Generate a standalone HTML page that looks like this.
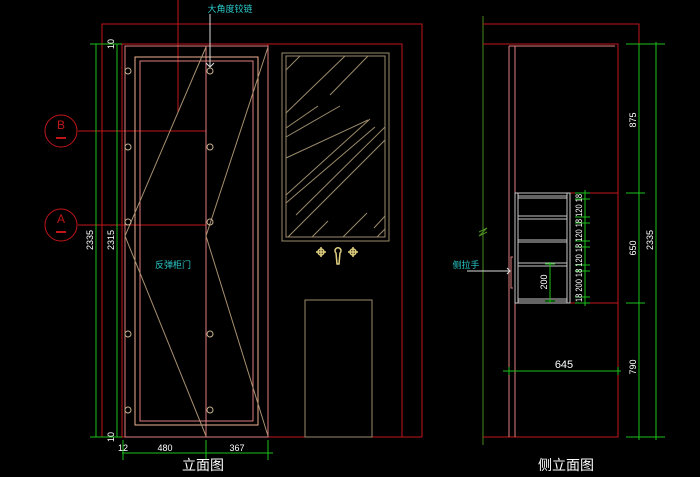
<!DOCTYPE html>
<html><head><meta charset="utf-8"><style>
html,body{margin:0;padding:0;background:#000;width:700px;height:477px;overflow:hidden}
svg{display:block}
text{font-family:"Liberation Sans","Noto Sans CJK SC",sans-serif}
</style></head><body>
<svg width="700" height="477" viewBox="0 0 700 477" xmlns="http://www.w3.org/2000/svg">
<g fill="none" stroke-width="1">
<!-- LEFT ELEVATION -->
<g stroke="#c0161a">
<path d="M102 437 V24 H422 V437"/>
<path d="M122 44 H402 V437"/>
<path d="M96 437 H422"/>
<line x1="122" y1="44" x2="122" y2="437"/>
<line x1="268" y1="44" x2="268" y2="437"/>
<line x1="178" y1="0" x2="178" y2="112"/>
<line x1="78" y1="131" x2="206" y2="131"/>
<line x1="78" y1="225" x2="206" y2="225"/>
<circle cx="61" cy="131" r="16"/>
<circle cx="61" cy="225" r="16"/>
<line x1="56" y1="138" x2="66" y2="138" stroke-width="2"/>
<line x1="56" y1="232" x2="66" y2="232" stroke-width="2"/>
</g>
<text x="61" y="129" fill="#c0161a" font-size="12" text-anchor="middle" font-family="Liberation Serif">B</text>
<text x="61" y="223" fill="#c0161a" font-size="12" text-anchor="middle" font-family="Liberation Serif">A</text>
<g stroke="#e08080">
<rect x="125" y="46" width="143" height="391"/>
<line x1="206" y1="46" x2="206" y2="437"/>
<rect x="140" y="61" width="113" height="360"/>
</g>
<rect x="135" y="57" width="123" height="368" stroke="#f0b090"/>
<g stroke="#a89070">
<polyline points="206,47 125,236 206,436"/>
<polyline points="268,47 206,236 268,436"/>
</g>
<g stroke="#c8b090">
<circle cx="128" cy="71" r="3"/><circle cx="128" cy="147" r="3"/><circle cx="128" cy="222" r="3"/><circle cx="128" cy="334" r="3"/><circle cx="128" cy="410" r="3"/>
<circle cx="210" cy="71" r="3"/><circle cx="210" cy="147" r="3"/><circle cx="210" cy="222" r="3"/><circle cx="210" cy="334" r="3"/><circle cx="210" cy="410" r="3"/>
</g>
<!-- mirror -->
<g stroke="#9a8a6a">
<rect x="282" y="53" width="107" height="188"/>
<rect x="286" y="56" width="99" height="181"/>
<path d="M286 70 L300 56 M286 113 L345 56 M330 95 L368 56 M286 128 L318 106 M286 137 L340 106 M286 158 L368 120 M286 195 L370 119 M286 203 L375 127 M296 215 L385 127 M288 237 L385 140 M312 237 L328 221 M343 237 L367 213 M374 228 L385 216 M377 237 L385 229"/>
<rect x="305" y="300" width="67" height="137"/>
</g>
<g stroke="#e0d080" stroke-width="1.5">
<path d="M321 247 V257 M316 252 H326"/><circle cx="321" cy="252" r="3"/>
<path d="M353 247 V257 M348 252 H358"/><circle cx="353" cy="252" r="3"/>
<path d="M336 253 A3 3 0 1 1 340 253 L339 264 H337 Z"/>
</g>
<!-- dims left -->
<g stroke="#1cc01c">
<line x1="96" y1="44" x2="96" y2="437"/>
<line x1="117" y1="44" x2="117" y2="437"/>
<line x1="90" y1="44" x2="122" y2="44"/>
<line x1="90" y1="437" x2="122" y2="437"/>
<line x1="122" y1="453" x2="273" y2="453"/>
<line x1="123" y1="440" x2="123" y2="460"/>
<line x1="206" y1="440" x2="206" y2="460"/>
<line x1="268" y1="440" x2="268" y2="460"/>
</g>
<g fill="#fff" font-size="9" text-anchor="middle">
<text transform="translate(93,240) rotate(-90)">2335</text>
<text transform="translate(114,240) rotate(-90)">2315</text>
<text transform="translate(114,44) rotate(-90)">10</text>
<text transform="translate(114,437) rotate(-90)">10</text>
<text x="123" y="451">12</text>
<text x="165" y="451">480</text>
<text x="237" y="451">367</text>
</g>
<text x="203" y="470" fill="#fff" font-size="14" text-anchor="middle">立面图</text>
<text x="230" y="12" fill="#2cc8c8" font-size="9" text-anchor="middle">大角度铰链</text>
<path d="M210 14 V66 M206 63 L210 67 L214 63" stroke="#ddd"/>
<text x="173" y="268" fill="#2cc8c8" font-size="9" text-anchor="middle">反弹柜门</text>

<!-- RIGHT ELEVATION -->
<line x1="483" y1="16" x2="483" y2="445" stroke="#4a8a20"/>
<path d="M479 232 L487 228 L479 236 L487 232" stroke="#4a8a20"/>
<g stroke="#c0161a">
<path d="M483 24 H639 V44"/>
<path d="M483 44 H618 V437 H483"/>
<line x1="515" y1="193" x2="618" y2="193"/>
<line x1="515" y1="303" x2="618" y2="303"/>
</g>
<g stroke="#e08080">
<line x1="509" y1="46" x2="509" y2="437"/>
<line x1="515" y1="46" x2="515" y2="437"/>
<line x1="509" y1="46" x2="615" y2="46"/>
<path d="M513 257 H511 V288 H513"/>
</g>
<g stroke="#c8c8c8">
<rect x="515" y="193" width="55" height="110"/>
<line x1="518" y1="193" x2="518" y2="303"/>
<line x1="567" y1="193" x2="567" y2="303"/>
<path d="M518 196 H567 M518 198 H567 M518 216 H567 M518 219 H567 M518 240 H567 M518 242 H567 M518 263 H567 M518 266 H567 M518 299 H567 M518 301 H567"/>
</g>
<g stroke="#1cc01c">
<line x1="639" y1="44" x2="639" y2="440"/>
<line x1="656" y1="42" x2="656" y2="440"/>
<path d="M626 44 H665 M626 193 H645 M626 303 H645 M626 437 H665"/>
<line x1="585" y1="190" x2="585" y2="306"/>
<path d="M575 193 H590 M575 199 H590 M575 217 H590 M575 223 H590 M575 241 H590 M575 247 H590 M575 265 H590 M575 271 H590 M575 297 H590 M575 303 H590"/>
<line x1="550" y1="262" x2="550" y2="303"/>
<path d="M545 264 H555 M545 301 H555"/>
<line x1="503" y1="371" x2="621" y2="371"/>
<path d="M509 367 V375 M618 367 V375"/>
</g>
<g fill="#fff" font-size="9" text-anchor="middle">
<text transform="translate(636,120) rotate(-90)">875</text>
<text transform="translate(636,248) rotate(-90)">650</text>
<text transform="translate(636,367) rotate(-90)">790</text>
<text transform="translate(653,240) rotate(-90)">2335</text>
<text transform="translate(547,282) rotate(-90)">200</text>
<text transform="translate(582,248) rotate(-90)" font-size="9" textLength="108" lengthAdjust="spacingAndGlyphs">18  200  18 120 18 120 18 120 18</text>
<text x="564" y="368" font-size="11">645</text>
</g>
<text x="566" y="470" fill="#fff" font-size="14" text-anchor="middle">侧立面图</text>
<text x="466" y="268" fill="#2cc8c8" font-size="9" text-anchor="middle">侧拉手</text>
<path d="M467 271 H510 M507 268 L510 271 L507 274" stroke="#ddd"/>
</g>
</svg>
</body></html>
